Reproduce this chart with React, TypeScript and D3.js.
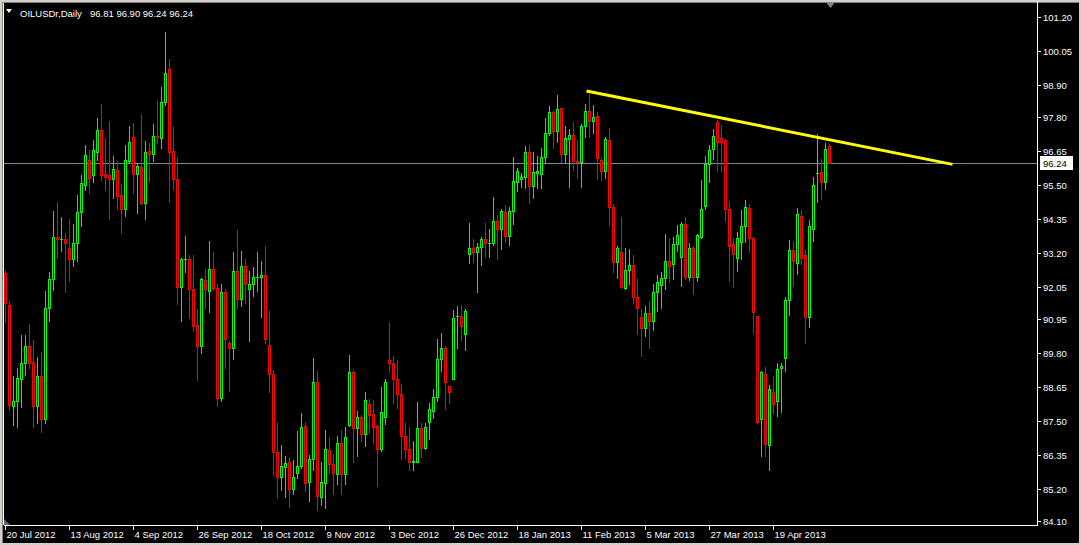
import React from "react";
import * as d3 from "d3";

const W = 1081;
const H = 545;

const symbol = "OILUSDr,Daily";
const headerValues = "96.81 96.90 96.24 96.24";
const lastPrice = 96.24;

const open = [
  92.52, 91.43, 88.0, 88.17, 88.92, 89.46, 90.04, 89.49, 88.0, 89.02,
  87.56, 91.33, 92.31, 93.73, 93.67, 93.67, 93.36, 92.99, 93.53, 94.58,
  95.5, 96.35, 95.84, 96.62, 97.37, 95.87, 95.84, 95.7, 96.01, 95.16,
  94.69, 96.32, 97.13, 95.87, 96.11, 94.89, 96.66, 96.55, 97.16, 97.1,
  98.32, 99.44, 96.66, 95.7, 92.04, 92.99, 92.99, 91.97, 90.75, 90.04,
  92.28, 91.9, 92.65, 92.01, 88.27, 91.87, 90.14, 89.97, 92.58, 91.63,
  92.75, 91.97, 92.14, 92.38, 92.38, 92.45, 90.07, 89.09, 86.44, 85.59,
  85.93, 86.1, 85.19, 85.73, 85.96, 87.33, 85.42, 86.2, 88.82, 84.91,
  85.39, 86.51, 86.03, 85.69, 86.75, 85.69, 87.36, 89.16, 87.26, 87.63,
  87.05, 88.07, 87.74, 87.33, 86.54, 87.63, 89.56, 89.46, 88.92, 88.41,
  86.99, 86.54, 86.1, 86.1, 87.26, 86.58, 87.46, 87.84, 88.31, 89.6,
  89.97, 88.68, 88.92, 91.05, 91.06, 90.45, 93.16, 93.36, 93.22, 93.39,
  93.67, 93.53, 93.53, 94.28, 94.01, 94.58, 93.77, 94.62, 95.6, 95.7,
  95.77, 96.62, 95.47, 95.91, 95.87, 96.45, 97.26, 97.98, 97.33, 98.11,
  96.55, 97.06, 97.2, 96.32, 96.28, 97.5, 98.01, 97.67, 97.84, 96.35,
  95.97, 97.03, 94.75, 92.89, 93.22, 92.01, 92.62, 92.79, 91.7, 91.02,
  90.65, 91.16, 90.88, 91.87, 92.11, 92.35, 92.92, 92.82, 93.5, 93.06,
  94.18, 92.38, 93.36, 92.38, 93.73, 94.79, 96.21, 96.72, 97.64, 97.1,
  97.03, 94.69, 93.5, 93.03, 93.56, 94.11, 94.72, 93.7, 91.06, 87.56,
  89.09, 86.68, 88.48, 88.17, 89.29, 89.63, 91.6, 93.29, 92.86, 94.45,
  93.12, 91.02, 94.01, 95.9, 95.94, 95.6, 96.81,
];

const high = [
  92.62, 91.57, 89.02, 89.29, 90.41, 90.41, 90.78, 90.24, 89.66, 89.83,
  91.9, 92.55, 94.62, 94.92, 94.41, 93.87, 94.35, 94.18, 95.16, 95.84,
  96.86, 96.69, 97.03, 97.77, 98.25, 97.1, 97.67, 96.49, 96.32, 95.53,
  96.86, 97.5, 97.6, 96.25, 97.91, 96.99, 96.93, 97.57, 98.35, 98.83,
  100.69, 99.77, 97.47, 96.45, 93.03, 93.77, 93.12, 93.12, 91.29, 92.35,
  92.65, 93.6, 93.22, 92.14, 92.14, 91.97, 90.21, 93.22, 93.97, 93.26,
  92.99, 92.58, 92.72, 93.22, 92.92, 93.43, 91.23, 89.23, 87.43, 86.68,
  86.31, 86.27, 86.17, 87.15, 87.77, 87.46, 86.34, 89.63, 89.19, 86.1,
  87.19, 86.95, 86.37, 86.99, 87.19, 87.29, 89.73, 89.23, 87.84, 87.7,
  88.48, 88.24, 88.21, 87.35, 88.65, 88.92, 90.85, 89.7, 89.56, 88.75,
  87.43, 87.29, 86.82, 88.14, 87.43, 87.43, 88.1, 88.58, 90.28, 90.48,
  90.04, 88.68, 91.26, 91.4, 91.43, 91.29, 94.21, 93.67, 93.53, 93.73,
  94.21, 94.01, 95.09, 94.48, 94.69, 94.82, 94.75, 96.45, 96.08, 95.91,
  96.82, 96.86, 96.62, 96.49, 96.76, 97.77, 98.18, 98.01, 98.55, 98.11,
  97.5, 97.4, 97.64, 97.03, 97.57, 98.25, 98.59, 98.21, 97.98, 96.42,
  97.13, 97.43, 94.86, 93.43, 94.41, 93.36, 93.33, 93.12, 92.31, 91.29,
  91.4, 91.57, 92.14, 92.45, 92.55, 93.84, 93.7, 93.73, 94.14, 94.25,
  94.41, 93.53, 93.43, 93.84, 95.67, 96.49, 96.86, 97.4, 97.7, 97.53,
  97.06, 94.96, 93.7, 93.9, 94.65, 94.99, 94.86, 93.73, 91.06, 89.19,
  89.33, 88.72, 89.02, 89.46, 89.46, 91.7, 93.63, 93.6, 94.72, 94.65,
  93.29, 94.31, 95.77, 97.23, 96.38, 96.93, 96.9,
];

const low = [
  90.85, 87.87, 87.36, 87.29, 87.97, 89.06, 89.29, 87.29, 87.43, 87.12,
  87.43, 90.88, 91.94, 93.03, 93.26, 91.87, 92.24, 92.75, 92.92, 94.11,
  95.33, 95.23, 95.6, 96.35, 95.67, 95.33, 94.35, 95.06, 94.69, 93.87,
  94.45, 96.25, 95.23, 94.55, 94.85, 94.35, 95.64, 96.32, 96.93, 96.76,
  98.21, 94.92, 95.36, 91.46, 90.88, 92.55, 90.99, 90.55, 88.89, 89.8,
  91.33, 91.19, 91.94, 88.0, 88.17, 89.29, 88.51, 89.6, 91.33, 91.4,
  91.5, 90.21, 91.74, 91.9, 91.02, 90.14, 88.48, 85.66, 84.88, 85.15,
  84.91, 84.57, 85.02, 85.56, 85.9, 85.12, 84.78, 85.83, 84.47, 84.64,
  84.54, 85.73, 85.02, 85.36, 85.02, 85.36, 87.33, 86.1, 86.31, 86.82,
  86.65, 87.09, 86.75, 85.29, 86.48, 87.39, 89.16, 88.1, 87.94, 86.2,
  86.24, 85.83, 85.83, 86.1, 86.27, 86.54, 86.88, 87.6, 88.17, 89.19,
  87.9, 88.1, 88.92, 89.97, 90.24, 89.9, 92.86, 92.89, 91.87, 92.79,
  93.06, 93.06, 93.46, 92.99, 93.33, 93.56, 93.46, 94.18, 95.3, 95.43,
  95.4, 94.89, 95.06, 95.4, 95.4, 96.25, 97.2, 96.76, 96.96, 96.28,
  96.28, 95.43, 96.01, 95.74, 95.43, 97.13, 97.13, 97.26, 95.7, 95.67,
  95.74, 94.14, 92.55, 92.35, 92.01, 91.97, 92.14, 91.5, 90.45, 89.7,
  90.38, 89.97, 90.58, 91.23, 91.33, 91.97, 92.21, 92.31, 93.26, 92.07,
  92.31, 92.28, 91.8, 92.24, 93.7, 94.69, 95.6, 96.38, 95.97, 95.97,
  94.28, 92.24, 92.04, 92.58, 92.99, 93.56, 93.22, 90.48, 87.43, 86.31,
  86.31, 85.83, 87.77, 87.67, 87.8, 89.19, 91.09, 92.07, 92.48, 92.82,
  90.14, 90.68, 93.6, 94.92, 95.03, 95.36, 96.24,
];

const close = [
  91.5, 88.04, 88.17, 88.95, 89.46, 90.04, 89.46, 88.0, 89.02, 87.56,
  91.33, 92.31, 93.73, 93.67, 93.68, 93.53, 92.99, 93.53, 94.58, 95.57,
  96.52, 95.74, 96.69, 97.37, 95.84, 95.77, 95.7, 96.04, 95.13, 94.69,
  96.35, 96.96, 95.87, 96.14, 94.89, 96.62, 96.55, 97.16, 97.13, 98.32,
  99.3, 96.62, 95.7, 92.04, 92.99, 93.0, 91.97, 90.72, 90.04, 92.31,
  91.97, 92.65, 92.01, 88.27, 91.87, 90.28, 89.97, 92.58, 91.63, 92.75,
  92.14, 92.14, 92.38, 92.39, 92.45, 90.28, 89.09, 86.44, 85.59, 85.96,
  86.07, 85.19, 85.59, 85.96, 87.29, 85.39, 86.2, 88.82, 84.95, 85.42,
  86.54, 86.03, 85.73, 86.75, 85.69, 86.95, 89.16, 87.26, 87.63, 87.05,
  88.21, 87.7, 87.29, 86.54, 87.8, 88.82, 89.46, 88.92, 88.41, 86.99,
  86.54, 86.1, 86.14, 87.26, 86.58, 87.29, 87.9, 88.31, 89.6, 89.97,
  88.82, 88.48, 90.99, 91.06, 90.72, 91.23, 93.36, 93.22, 93.39, 93.67,
  93.53, 93.54, 94.28, 94.01, 94.62, 93.77, 94.62, 95.64, 95.97, 95.77,
  96.62, 95.47, 95.94, 95.97, 96.45, 97.26, 97.98, 97.33, 98.08, 96.55,
  97.1, 97.2, 96.32, 96.28, 97.5, 98.01, 97.67, 97.81, 96.42, 95.97,
  97.06, 94.75, 92.89, 93.36, 92.04, 92.62, 92.79, 91.7, 91.33, 90.65,
  91.16, 90.88, 91.87, 92.21, 92.35, 92.92, 92.75, 93.5, 93.8, 94.18,
  92.38, 93.36, 92.38, 93.8, 94.69, 96.21, 96.69, 97.16, 96.96, 96.96,
  94.69, 93.43, 93.16, 93.7, 94.11, 94.75, 93.7, 91.19, 87.46, 89.16,
  86.71, 88.58, 88.07, 89.26, 89.36, 91.6, 93.29, 92.92, 94.52, 93.03,
  91.02, 94.11, 95.5, 95.91, 95.6, 96.72, 96.24,
];

const priceTicks = [
  101.2, 100.05, 98.9, 97.8, 96.65, 95.5, 94.35, 93.2, 92.05, 90.95, 89.8,
  88.65, 87.5, 86.35, 85.2, 84.1,
];

const dateLabels = [
  "20 Jul 2012", "13 Aug 2012", "4 Sep 2012", "26 Sep 2012", "18 Oct 2012",
  "9 Nov 2012", "3 Dec 2012", "26 Dec 2012", "18 Jan 2013", "11 Feb 2013",
  "5 Mar 2013", "27 Mar 2013", "19 Apr 2013",
];
const barsPerLabel = 16;

const trendline = [
  { bar: 145.25, price: 98.69 },
  { bar: 236.75, price: 96.2 },
];

const FONT = "'Liberation Sans', Arial, sans-serif";
const BULL = "#00ff00";
const BEAR = "#ff0000";

export default function App() {
  // layout
  const plotLeft = 4;
  const plotRight = 1037;
  const plotTop = 2;
  const plotBottom = 525;

  const x = d3.scaleLinear().domain([0, 258]).range([5.5, 5.5 + 4 * 258]);
  const y = d3.scaleLinear().domain([84.1, 101.2]).range([521, 17]);

  const candles = open.map((o, i) => {
    const c = close[i];
    const h = high[i];
    const l = low[i];
    const cx = x(i);
    const bull = c >= o;
    const color = bull ? BULL : BEAR;
    const yt = Math.round(y(Math.max(o, c)));
    const yb = Math.round(y(Math.min(o, c)));
    const yh = Math.round(y(h));
    const yl = Math.round(y(l));
    return (
      <g key={i}>
        <line x1={cx} x2={cx} y1={yh} y2={yl + 1} stroke={color} strokeWidth={1} />
        {yb - yt >= 1 ? (
          <rect
            x={cx - 1}
            y={yt + 0.5}
            width={2}
            height={yb - yt}
            fill="#000"
            stroke={color}
            strokeWidth={1}
          />
        ) : (
          <line x1={cx - 1.5} x2={cx + 1.5} y1={yt + 0.5} y2={yt + 0.5} stroke={color} strokeWidth={1} />
        )}
      </g>
    );
  });

  const lastY = Math.round(y(lastPrice)) + 0.5;
  const trend = d3
    .line<{ bar: number; price: number }>()
    .x((d) => x(d.bar))
    .y((d) => y(d.price));

  const lastBarX = x(open.length - 1);

  return (
    <svg width={W} height={H} style={{ display: "block", position: "absolute", left: 0, top: 0 }}>
      <rect x={0} y={0} width={W} height={H} fill="#d4d0c8" />
      <rect x={2} y={2} width={W - 4} height={H - 4} fill="#000" />
      <line x1={2.5} x2={2.5} y1={2} y2={H - 2} stroke="#808080" />
      <line x1={2} x2={W - 2} y1={2.5} y2={2.5} stroke="#808080" />
      <line x1={3.5} x2={3.5} y1={3} y2={plotBottom} stroke="#ffffff" />

      <defs>
        <clipPath id="plot">
          <rect x={plotLeft} y={plotTop} width={plotRight - plotLeft} height={plotBottom - plotTop} />
        </clipPath>
      </defs>

      <g clipPath="url(#plot)">
        <line x1={plotLeft} x2={plotRight} y1={lastY} y2={lastY} stroke="#7a8a9a" strokeWidth={1} />
        {candles}
        <path d={trend(trendline) || ""} stroke="#ffff00" strokeWidth={3} fill="none" />
      </g>

      {/* axes frame */}
      <line x1={plotRight + 0.5} x2={plotRight + 0.5} y1={plotTop} y2={plotBottom + 1} stroke="#ffffff" />
      <line x1={plotLeft} x2={plotRight + 1} y1={plotBottom + 0.5} y2={plotBottom + 0.5} stroke="#ffffff" />

      {/* price axis */}
      {priceTicks.map((p) => {
        const py = Math.round(y(p)) + 0.5;
        return (
          <g key={p}>
            <line x1={plotRight + 1} x2={plotRight + 4} y1={py} y2={py} stroke="#ffffff" />
            <text x={1043} y={py} dy="0.35em" fill="#ffffff" fontFamily={FONT} fontSize={9.5}>
              {p.toFixed(2)}
            </text>
          </g>
        );
      })}
      <rect x={1040} y={lastY - 7.5} width={33} height={14} fill="#ffffff" />
      <text x={1043} y={lastY} dy="0.35em" fill="#000" fontFamily={FONT} fontSize={9.5}>
        {lastPrice.toFixed(2)}
      </text>

      {/* time axis */}
      {dateLabels.map((lab, k) => {
        const tx = x(k * barsPerLabel);
        return (
          <g key={lab}>
            <line x1={tx} x2={tx} y1={plotBottom} y2={plotBottom + 5} stroke="#ffffff" />
            <text x={tx + 1} y={538} fill="#ffffff" fontFamily={FONT} fontSize={9.5}>
              {lab}
            </text>
          </g>
        );
      })}

      {/* header */}
      <path d="M6,9 L12,9 L9,13 Z" fill="#ffffff" />
      <text x={20} y={17} fill="#ffffff" fontFamily={FONT} fontSize={9.5}>
        {symbol}
      </text>
      <text x={90} y={17} fill="#ffffff" fontFamily={FONT} fontSize={9.5}>
        {headerValues}
      </text>

      {/* chart shift marker */}
      <path
        d={`M${lastBarX - 3},3 L${lastBarX + 5},3 L${lastBarX + 1},8 Z`}
        fill="#808080"
      />
      <path d={`M4,519 L4,525 L10,525 Z`} fill="#5a6a7a" />
    </svg>
  );
}
